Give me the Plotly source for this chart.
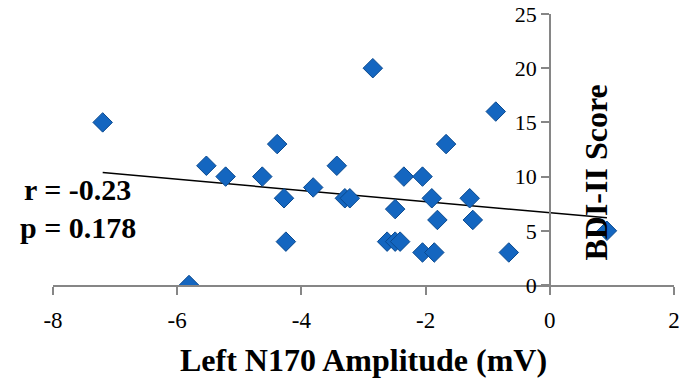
import numpy as np
import plotly.graph_objects as go

# Data
n170_amplitude = [-7.20, -5.81, -5.53, -5.22, -4.63, -4.39, -4.28, -4.25, -3.81, -3.43,
                  -3.30, -3.22, -2.85, -2.62, -2.49, -2.49, -2.41, -2.35, -2.05, -2.05,
                  -1.90, -1.81, -1.86, -1.67, -1.29, -1.24, -0.87, -0.66, 0.92]
bdi_score = [15, 0, 11, 10, 10, 13, 8, 4, 9, 11,
             8, 8, 20, 4, 7, 4, 4, 10, 10, 3,
             8, 6, 3, 13, 8, 6, 16, 3, 5]

x_ticks = [-8, -6, -4, -2, 0, 2]
y_ticks = [0, 5, 10, 15, 20, 25]
stats_lines = ["r = -0.23", "p = 0.178"]
x_title = "Left N170 Amplitude (mV)"
y_title = "BDI-II Score"

# Linear trendline (least squares), drawn over the data's x extent
slope, intercept = np.polyfit(n170_amplitude, bdi_score, 1)
trend_x = [min(n170_amplitude), max(n170_amplitude)]
trend_y = [slope * v + intercept for v in trend_x]

FONT = "Liberation Serif"
AXIS_GRAY = "#868686"

fig = go.Figure()
fig.add_trace(go.Scatter(
    x=trend_x, y=trend_y, mode="lines",
    line=dict(color="black", width=1.5), hoverinfo="skip", showlegend=False,
))
fig.add_trace(go.Scatter(
    x=n170_amplitude, y=bdi_score, mode="markers",
    marker=dict(symbol="diamond", size=15, color="#1466C0",
                line=dict(color="#0B4A8F", width=1)),
    showlegend=False,
))

fig.update_layout(
    width=681, height=382,
    margin=dict(l=53, r=7, t=14, b=97, autoexpand=False),
    paper_bgcolor="white", plot_bgcolor="white",
    font=dict(family=FONT, color="black"),
    xaxis=dict(
        range=[-8, 2], tickvals=x_ticks, ticktext=[str(v) for v in x_ticks],
        showgrid=False, zeroline=False, showline=True, linecolor=AXIS_GRAY, linewidth=1.5,
        ticks="outside", ticklen=8, tickcolor=AXIS_GRAY, tickwidth=1.5,
        tickfont=dict(family=FONT, size=23, color="black"),
        ticklabelstandoff=6,
        domain=[0, 1],
    ),
    yaxis=dict(
        range=[0, 25], tickvals=y_ticks, ticktext=[str(v) for v in y_ticks],
        showgrid=False, zeroline=False, showline=True, linecolor=AXIS_GRAY, linewidth=1.5,
        ticks="outside", ticklen=8, tickcolor=AXIS_GRAY, tickwidth=1.5,
        tickfont=dict(family=FONT, size=22, color="black"),
        anchor="free", position=0.8,
    ),
    annotations=[
        dict(text=stats_lines[0], xref="paper", yref="paper", x=0.040, y=0.351,
             xanchor="center", yanchor="middle", showarrow=False,
             font=dict(family=FONT, size=30, color="black", weight="bold")),
        dict(text=stats_lines[1], xref="paper", yref="paper", x=0.040, y=0.211,
             xanchor="center", yanchor="middle", showarrow=False,
             font=dict(family=FONT, size=30, color="black", weight="bold")),
        dict(text=x_title, xref="paper", yref="paper", x=0.5, y=-0.278,
             xanchor="center", yanchor="middle", showarrow=False,
             font=dict(family=FONT, size=32, color="black", weight="bold")),
        dict(text=y_title, xref="paper", yref="paper", x=0.874, y=0.414,
             xanchor="center", yanchor="middle", showarrow=False, textangle=-90,
             font=dict(family=FONT, size=32, color="black", weight="bold")),
    ],
)

fig.write_html("out.html")
